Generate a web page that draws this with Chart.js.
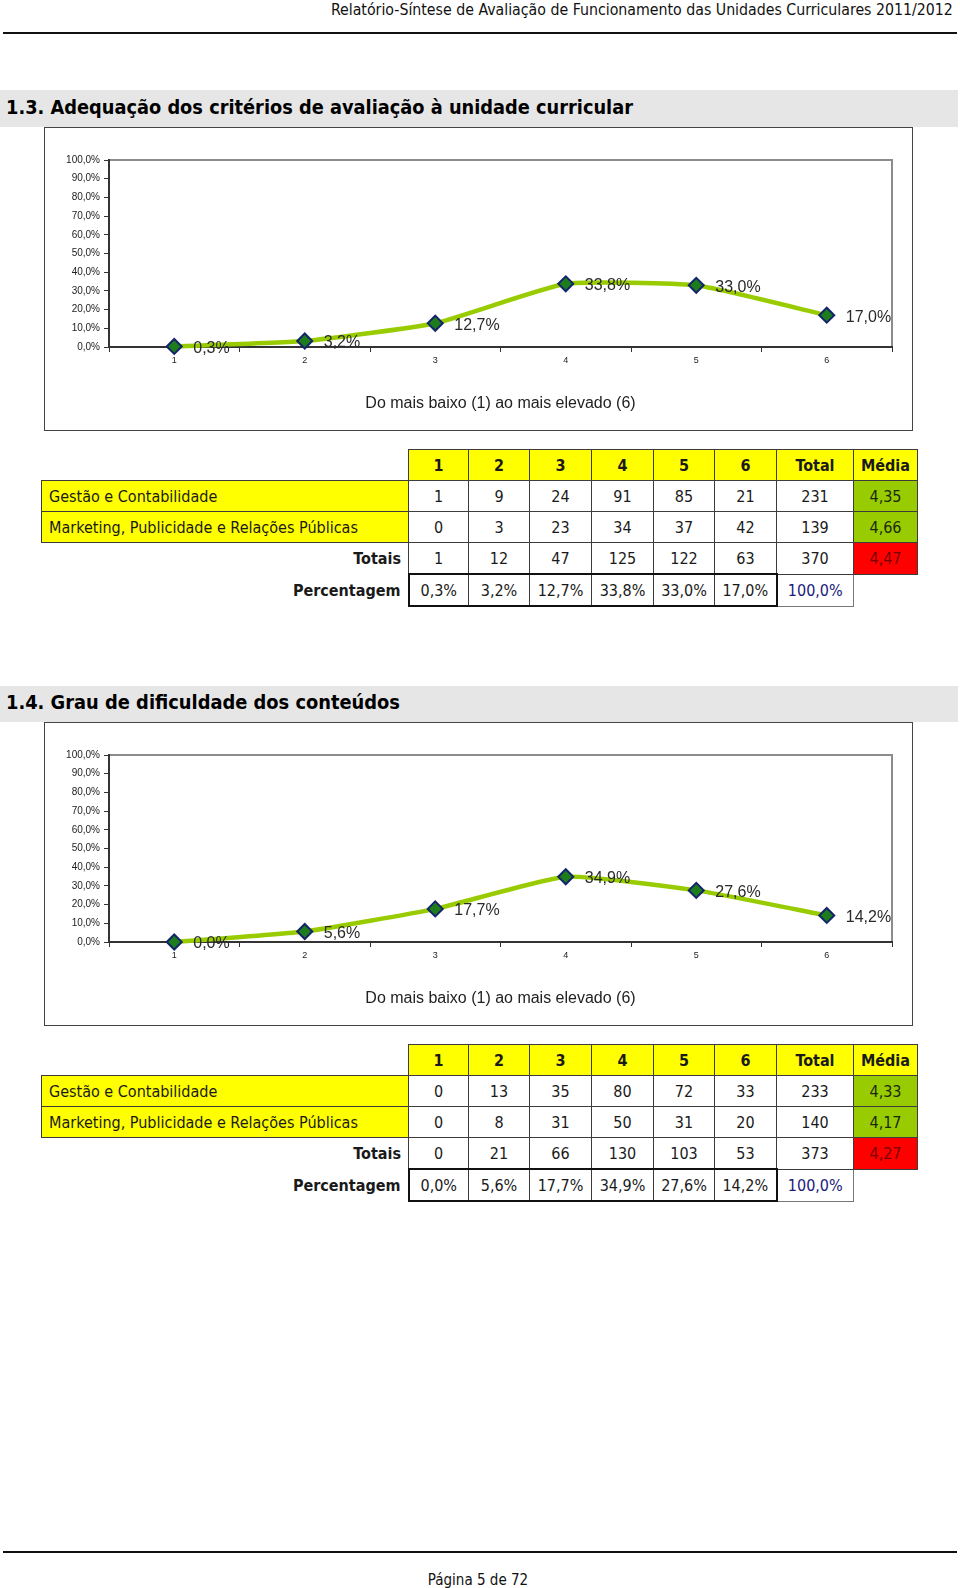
<!DOCTYPE html>
<html lang="pt">
<head>
<meta charset="utf-8">
<title>Relatório-Síntese 2011/2012</title>
<script src="https://cdn.jsdelivr.net/npm/chart.js@4.4.1/dist/chart.umd.min.js"></script>
<style>
  html, body { margin: 0; padding: 0; background: #fff; }
  body { position: relative; width: 960px; height: 1588px; overflow: hidden; }
  .cond { font-family: "DejaVu Sans Condensed", "DejaVu Sans", sans-serif; font-stretch: condensed; }
  #pageHeader { position: absolute; right: 7px; top: 0; font-size: 16px; line-height: 20px; color: #111; white-space: nowrap; transform-origin: right center; }
  .rule { position: absolute; left: 3px; width: 954px; height: 2px; background: #111; }
  .secBar { position: absolute; left: 0; width: 958px; background: #e6e6e6; }
  .secBar span { position: absolute; left: 6px; font-weight: bold; font-size: 20px; white-space: nowrap; color: #000; transform-origin: left center; }
  .chartBox { position: absolute; left: 44px; width: 867px; height: 302px; border: 1px solid #444; background: #fff; }
  .chartBox canvas { display: block; }
  table.dados { position: absolute; left: 41px; border-collapse: collapse; table-layout: fixed; font-size: 16px; color: #1a1a1a; }
  table.dados td { height: 30px; padding: 0; text-align: center; vertical-align: middle; border: 1px solid #3c3c3c; white-space: nowrap; }
  table.dados td.blank { border: none; }
  table.dados td.hd { background: #ffff00; font-weight: bold; }
  table.dados td.nome { background: #ffff00; text-align: left; padding-left: 7px; }
  table.dados td.lbl { border: none; font-weight: bold; text-align: right; padding-right: 7px; }
  table.dados td.ok { background: #99cc00; color: #1a2a10; }
  table.dados td.mal { background: #ff0000; color: #7a0000; }
  table.dados td.pc { border-top: 2px solid #111; border-bottom: 2px solid #111; }
  table.dados td.pcFirst { border-left: 2px solid #111; }
  table.dados td.pcLast { border-right: 2px solid #111; }
  table.dados td.tot { color: #1a1a7a; border-color: #777; }
  table.dados td.none { border: none; }
  #footer { position: absolute; left: 0; width: 956px; top: 1571px; text-align: center; font-size: 15px; color: #111; }
</style>
</head>
<body>

<div id="pageHeader" class="cond" data-fit="622">Relatório-Síntese de Avaliação de Funcionamento das Unidades Curriculares 2011/2012</div>
<div class="rule" style="top:32px"></div>

<div class="secBar" style="top:90px;height:37px"><span class="cond" data-fit="627" style="top:5px">1.3. Adequação dos critérios de avaliação à unidade curricular</span></div>
<div class="chartBox" style="top:127px"><canvas id="chartCriterios" width="867" height="302"></canvas></div>
<table class="dados cond" id="tabCriterios" style="top:449px"></table>

<div class="secBar" style="top:686px;height:36px"><span class="cond" data-fit="394" style="top:4px">1.4. Grau de dificuldade dos conteúdos</span></div>
<div class="chartBox" style="top:722px"><canvas id="chartDificuldade" width="867" height="302"></canvas></div>
<table class="dados cond" id="tabDificuldade" style="top:1044px"></table>

<div class="rule" style="top:1551px"></div>
<div id="footer" class="cond">Página 5 de 72</div>

<script>
// Níveis (1 = mais baixo, 6 = mais elevado)
const levels = ["1", "2", "3", "4", "5", "6"];
const yTicks = [0, 10, 20, 30, 40, 50, 60, 70, 80, 90, 100];
const axisTitle = "Do mais baixo (1) ao mais elevado (6)";

// 1.3. Adequação dos critérios de avaliação
const critGestao = [1, 9, 24, 91, 85, 21];
const critMarketing = [0, 3, 23, 34, 37, 42];
const critTotais = [1, 12, 47, 125, 122, 63];
const critSomas = [231, 139, 370];
const critMedias = ["4,35", "4,66", "4,47"];
const critPct = [0.3, 3.2, 12.7, 33.8, 33.0, 17.0];

// 1.4. Grau de dificuldade dos conteúdos
const difGestao = [0, 13, 35, 80, 72, 33];
const difMarketing = [0, 8, 31, 50, 31, 20];
const difTotais = [0, 21, 66, 130, 103, 53];
const difSomas = [233, 140, 373];
const difMedias = ["4,33", "4,17", "4,27"];
const difPct = [0.0, 5.6, 17.7, 34.9, 27.6, 14.2];

const cursos = ["Gestão e Contabilidade", "Marketing, Publicidade e Relações Públicas"];

function pct(v) {
  return v.toFixed(1).replace(".", ",") + "%";
}

// stretch a text element to the width it has on the printed page
function fitText() {
  document.querySelectorAll("[data-fit]").forEach(el => {
    el.style.display = "inline-block";
    const w = el.getBoundingClientRect().width;
    const target = parseFloat(el.dataset.fit);
    if (w > 0) el.style.transform = "scaleX(" + (target / w) + ")";
  });
}

function buildTable(id, rows, totais, somas, medias, pcts) {
  const tab = document.getElementById(id);
  const widths = [367, 60, 61, 62, 62, 61, 62, 77, 64];
  let html = "<colgroup>" + widths.map(w => '<col style="width:' + w + 'px">').join("") + "</colgroup>";

  html += '<tr><td class="blank"></td>' + levels.map(l => '<td class="hd">' + l + "</td>").join("") +
    '<td class="hd">Total</td><td class="hd">Média</td></tr>';

  rows.forEach((vals, i) => {
    html += '<tr><td class="nome">' + cursos[i] + "</td>" + vals.map(v => "<td>" + v + "</td>").join("") +
      "<td>" + somas[i] + '</td><td class="ok">' + medias[i] + "</td></tr>";
  });

  html += '<tr><td class="lbl">Totais</td>' + totais.map(v => "<td>" + v + "</td>").join("") +
    "<td>" + somas[2] + '</td><td class="mal">' + medias[2] + "</td></tr>";

  html += '<tr><td class="lbl">Percentagem</td>' + pcts.map((v, i) => {
    let cls = "pc";
    if (i === 0) cls += " pcFirst";
    if (i === pcts.length - 1) cls += " pcLast";
    return '<td class="' + cls + '">' + pct(v) + "</td>";
  }).join("") + '<td class="tot">' + pct(100) + '</td><td class="none"></td></tr>';

  tab.innerHTML = html;
}

// data labels to the right of each marker
const pointLabels = {
  id: "pointLabels",
  afterDatasetsDraw(chart) {
    const ctx = chart.ctx;
    const meta = chart.getDatasetMeta(0);
    const data = chart.data.datasets[0].data;
    ctx.save();
    ctx.font = '16px "Liberation Sans", Arial, sans-serif';
    ctx.fillStyle = "#2a2a2a";
    ctx.textAlign = "left";
    ctx.textBaseline = "middle";
    meta.data.forEach((pt, i) => {
      ctx.fillText(pct(data[i]), pt.x + 19, pt.y + 2);
    });
    ctx.restore();
  }
};

// grey frame on top and right of the plot area
const plotFrame = {
  id: "plotFrame",
  beforeDraw(chart) {
    const a = chart.chartArea;
    const ctx = chart.ctx;
    ctx.save();
    ctx.strokeStyle = "#8c8c8c";
    ctx.lineWidth = 2;
    ctx.strokeRect(a.left, a.top, a.right - a.left, a.bottom - a.top);
    ctx.restore();
  }
};

function makeChart(id, values) {
  const ctx = document.getElementById(id).getContext("2d");
  return new Chart(ctx, {
    type: "line",
    data: {
      labels: levels,
      datasets: [{
        data: values,
        borderColor: "#99cc00",
        borderWidth: 4.5,
        tension: 0.15,
        pointStyle: "rectRot",
        pointRadius: 7.5,
        pointBackgroundColor: "#1d7d1d",
        pointBorderColor: "#14246a",
        pointBorderWidth: 2,
        clip: false
      }]
    },
    options: {
      responsive: false,
      animation: false,
      layout: { padding: { top: 32, right: 20, left: 0, bottom: 0 } },
      plugins: {
        legend: { display: false },
        tooltip: { enabled: false }
      },
      scales: {
        x: {
          offset: true,
          afterFit: s => { s.height = 83; },
          border: { color: "#333", width: 2 },
          grid: { offset: true, drawOnChartArea: false, tickLength: 5, color: "#333" },
          ticks: { color: "#222", padding: 3, font: { family: '"Liberation Sans", Arial', size: 9 } },
          title: {
            display: true,
            text: axisTitle,
            color: "#222",
            padding: { top: 0, bottom: 17 },
            font: { family: '"Liberation Sans", Arial', size: 16 }
          }
        },
        y: {
          min: yTicks[0],
          max: yTicks[yTicks.length - 1],
          afterFit: s => { s.width = 64; },
          afterBuildTicks: s => { s.ticks = yTicks.map(v => ({ value: v })); },
          border: { color: "#333", width: 2 },
          grid: { drawOnChartArea: false, tickLength: 5, color: "#333" },
          ticks: {
            color: "#222",
            padding: 4,
            font: { family: '"Liberation Sans", Arial', size: 10 },
            callback: v => pct(v)
          }
        }
      }
    },
    plugins: [plotFrame, pointLabels]
  });
}

buildTable("tabCriterios", [critGestao, critMarketing], critTotais, critSomas, critMedias, critPct);
buildTable("tabDificuldade", [difGestao, difMarketing], difTotais, difSomas, difMedias, difPct);
makeChart("chartCriterios", critPct);
makeChart("chartDificuldade", difPct);
fitText();
</script>
</body>
</html>
